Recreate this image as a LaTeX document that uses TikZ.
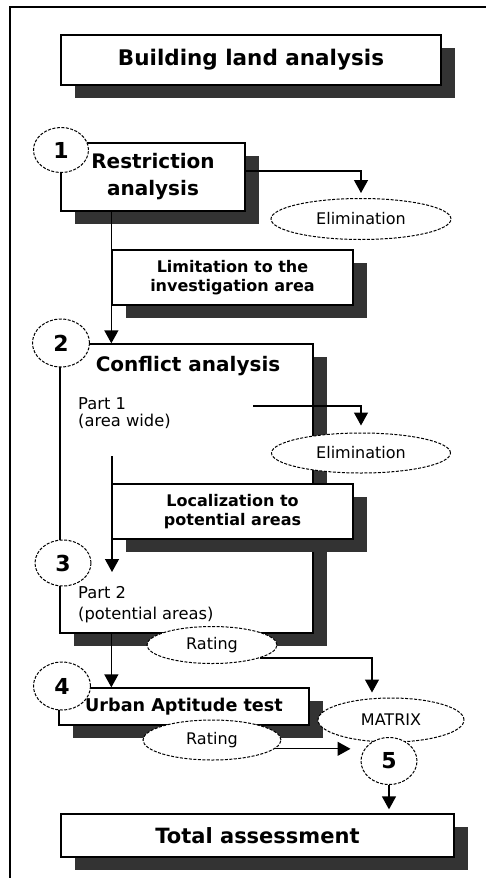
\documentclass[tikz,border=0pt]{standalone}
\usepackage{fontspec}
\setmainfont{DejaVu Sans}
\usetikzlibrary{shapes.geometric,shadows,arrows.meta}
\definecolor{shd}{HTML}{333333}
\begin{document}
\begin{tikzpicture}[x=1pt,y=-1pt,
  box/.style={draw=black,line width=1.3pt,fill=white,inner sep=0pt,align=center,
    drop shadow={shadow xshift=14pt,shadow yshift=-13pt,fill=shd,opacity=1}},
  num/.style={ellipse,draw,dash pattern=on 3pt off 1.5pt,line width=1pt,fill=white,
    inner sep=0pt,font=\fontsize{22}{22}\selectfont\bfseries},
  oval/.style={ellipse,draw,dash pattern=on 3pt off 1.5pt,line width=1pt,fill=white,
    inner sep=0pt,font=\fontsize{16}{18}\selectfont},
  conn/.style={line width=1.3pt},
  arr/.style={conn,-{Triangle[width=14pt,length=13pt]}},
  txt/.style={inner sep=0pt,font=\fontsize{16.3}{18}\selectfont}
]
\useasboundingbox (0,0) rectangle (486,878);
\fill[white] (0,0) rectangle (486,878);
\draw[line width=1.5pt] (10,878) -- (10,7) -- (486,7);

% title
\node[box,minimum width=380pt,minimum height=50pt,font=\fontsize{21.5}{24}\selectfont\bfseries] (title) at (251,60) {Building land analysis};

% step 1
\node[box,minimum width=184pt,minimum height=68pt,font=\fontsize{20}{27}\selectfont\bfseries] (restr) at (153,177) {Restriction\\analysis};
\node[num,minimum width=55pt,minimum height=45pt] (c1) at (61,150) {1};
\node[oval,minimum width=180pt,minimum height=41pt] (elim1) at (361,219) {Elimination};
\draw[arr,shorten >=5pt] ([yshift=6pt]restr.east) -| (elim1.north);

\node[box,minimum width=241pt,minimum height=55pt,font=\fontsize{16}{19}\selectfont\bfseries] (lim) at (232.5,277.5) {Limitation to the\\investigation area};

% step 2
\node[box,minimum width=253pt,minimum height=289pt] (conf) at (186.5,488.5) {};
\draw[arr] (restr.south -| lim.west) -- (conf.north -| lim.west);
\node[inner sep=0pt,font=\fontsize{20}{24}\selectfont\bfseries] (conft) at (188,366) {Conflict analysis};
\node[txt,anchor=base west] (p1a) at (78,409) {Part 1};
\node[txt,anchor=base west] (p1b) at (78,426) {(area wide)};
\coordinate (p1s) at (253,406);
\node[oval,minimum width=179pt,minimum height=40pt] (elim2) at (361,453) {Elimination};
\draw[arr,shorten >=7pt] (p1s) -| (elim2.north);

\node[box,minimum width=241pt,minimum height=55pt,font=\fontsize{16}{19}\selectfont\bfseries] (loc) at (232.5,511.5) {Localization to\\potential areas};
\coordinate (p2s) at (112,456);
\coordinate (p2e) at (112,572);
\draw[arr] (p2s) -- (p2e);

\node[num,minimum width=57pt,minimum height=48pt] (c2) at (61,343) {2};
\node[num,minimum width=56pt,minimum height=46pt] (c3) at (63,563) {3};
\node[txt,anchor=base west] (p2a) at (78,598) {Part 2};
\node[txt,anchor=base west] (p2b) at (78,619) {(potential areas)};

% step 4
\node[box,minimum width=250pt,minimum height=37pt,font=\fontsize{17.6}{20}\selectfont\bfseries] (urban) at (184,706.5) {Urban Aptitude test};
\draw[arr] (conf.south -| lim.west) -- (urban.north -| lim.west);
\node[oval,minimum width=130pt,minimum height=37pt] (rat1) at (212,645) {Rating};
\node[num,minimum width=57pt,minimum height=48pt] (c4) at (62,686) {4};
\node[oval,minimum width=146pt,minimum height=44pt] (mx) at (391,720) {MATRIX};
\draw[arr,shorten >=5pt] (rat1.-15) -| ([xshift=-19pt]mx.north);
\node[oval,minimum width=138pt,minimum height=40pt] (rat2) at (212,740) {Rating};
\node[num,minimum width=56pt,minimum height=47pt] (c5) at (389,761) {5};
\draw[arr,shorten >=10pt] (rat2.-8) -- (rat2.-8 -| c5.west);

% total
\node[box,minimum width=393pt,minimum height=43pt,font=\fontsize{21}{24}\selectfont\bfseries] (total) at (257.5,835.5) {Total assessment};
\draw[arr,shorten >=4pt] (c5.south) -- (c5.south |- total.north);
\end{tikzpicture}
\end{document}
